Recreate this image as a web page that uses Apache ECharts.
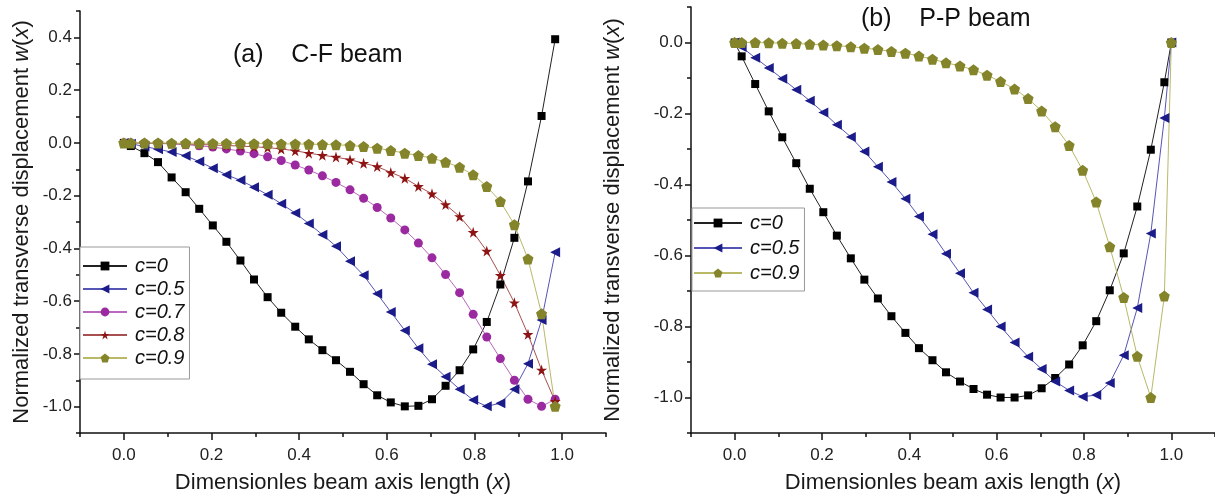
<!DOCTYPE html>
<html>
<head>
<meta charset="utf-8">
<title>Beam mode shapes</title>
<script src="https://cdn.jsdelivr.net/npm/echarts@6/dist/echarts.min.js"></script>
<style>
  html, body { margin: 0; padding: 0; background: #fff; }
  #chart { width: 1215px; height: 501px; }
</style>
</head>
<body>
<div id="chart"></div>
<script>
// x positions of the points (C-F panel has no point at x=1)
const xA = [0, 0.016, 0.047, 0.078, 0.109, 0.141, 0.172, 0.203, 0.234, 0.266, 0.297,
  0.328, 0.359, 0.391, 0.422, 0.453, 0.484, 0.516, 0.547, 0.578, 0.609,
  0.641, 0.672, 0.703, 0.734, 0.766, 0.797, 0.828, 0.859, 0.891, 0.922, 0.953, 0.984];
const xB = [0, 0.016, 0.047, 0.078, 0.109, 0.141, 0.172, 0.203, 0.234, 0.266, 0.297,
  0.328, 0.359, 0.391, 0.422, 0.453, 0.484, 0.516, 0.547, 0.578, 0.609,
  0.641, 0.672, 0.703, 0.734, 0.766, 0.797, 0.828, 0.859, 0.891, 0.922, 0.953, 0.984, 1.0];

// (a) C-F beam
const cfC0 = [0, -0.012, -0.039, -0.073, -0.131, -0.187, -0.250, -0.313, -0.375, -0.446, -0.518,
  -0.585, -0.644, -0.697, -0.745, -0.786, -0.824, -0.868, -0.915, -0.957, -0.984,
  -0.999, -0.997, -0.972, -0.921, -0.862, -0.783, -0.679, -0.537, -0.360, -0.146, 0.102, 0.393];
const cfC05 = [0, -0.003, -0.014, -0.024, -0.035, -0.049, -0.071, -0.096, -0.121, -0.142, -0.168,
  -0.197, -0.231, -0.266, -0.306, -0.348, -0.392, -0.449, -0.502, -0.572, -0.641,
  -0.711, -0.779, -0.839, -0.887, -0.934, -0.975, -0.999, -0.987, -0.934, -0.837, -0.672, -0.415];
const cfC07 = [0, 0, -0.001, -0.002, -0.004, -0.007, -0.011, -0.016, -0.023, -0.031, -0.041,
  -0.053, -0.067, -0.084, -0.103, -0.125, -0.150, -0.178, -0.210, -0.245, -0.285,
  -0.330, -0.380, -0.436, -0.499, -0.568, -0.650, -0.736, -0.818, -0.900, -0.972, -0.999, -0.972];
const cfC08 = [0, 0, -0.001, -0.002, -0.003, -0.004, -0.006, -0.008, -0.010, -0.012, -0.015,
  -0.018, -0.023, -0.030, -0.039, -0.047, -0.054, -0.064, -0.077, -0.090, -0.112,
  -0.134, -0.165, -0.193, -0.234, -0.279, -0.339, -0.410, -0.502, -0.606, -0.726, -0.861, -0.980];
const cfC09 = [0, 0, 0, 0, -0.001, -0.001, -0.001, -0.002, -0.002, -0.002, -0.003,
  -0.003, -0.004, -0.004, -0.005, -0.006, -0.007, -0.010, -0.014, -0.020, -0.029,
  -0.039, -0.048, -0.058, -0.073, -0.092, -0.121, -0.165, -0.222, -0.310, -0.440, -0.648, -0.999];

// (b) P-P beam
const ppC0 = [0, -0.039, -0.117, -0.194, -0.267, -0.340, -0.412, -0.478, -0.544, -0.608, -0.668,
  -0.721, -0.771, -0.818, -0.861, -0.895, -0.929, -0.955, -0.976, -0.992, -1.000,
  -1.000, -0.994, -0.974, -0.945, -0.907, -0.853, -0.785, -0.698, -0.594, -0.462, -0.302, -0.112, 0];
const ppC05 = [0, -0.013, -0.043, -0.072, -0.102, -0.133, -0.164, -0.197, -0.232, -0.266, -0.307,
  -0.350, -0.393, -0.440, -0.490, -0.540, -0.595, -0.650, -0.705, -0.752, -0.800,
  -0.845, -0.885, -0.920, -0.955, -0.980, -0.998, -0.993, -0.959, -0.881, -0.748, -0.538, -0.213, 0];
const ppC09 = [0, 0, 0, -0.001, -0.002, -0.003, -0.005, -0.007, -0.009, -0.012, -0.016,
  -0.020, -0.025, -0.030, -0.038, -0.047, -0.057, -0.066, -0.077, -0.092, -0.110,
  -0.131, -0.158, -0.193, -0.237, -0.290, -0.360, -0.449, -0.575, -0.718, -0.884, -1.000, -0.714, 0];

// tick values
const xMajor = [0, 0.2, 0.4, 0.6, 0.8, 1.0];
const xMinor = [-0.1, 0.1, 0.3, 0.5, 0.7, 0.9, 1.1];
const yMajorA = [-1.0, -0.8, -0.6, -0.4, -0.2, 0, 0.2, 0.4];
const yMinorA = [-1.1, -0.9, -0.7, -0.5, -0.3, -0.1, 0.1, 0.3, 0.5];
const yMajorB = [-1.0, -0.8, -0.6, -0.4, -0.2, 0];
const yMinorB = [-1.1, -0.9, -0.7, -0.5, -0.3, -0.1, 0.1];

const FONT = 'Liberation Sans, Arial, sans-serif';
const STAR = 'path://M50,0 L61,35 L98,35 L68,57 L79,91 L50,70 L21,91 L32,57 L2,35 L39,35 Z';
const PENTA = 'path://M50,0 L98,36 L80,95 L20,95 L2,36 Z';

// looks of each curve
const styles = {
  'c=0':   { symbol: 'rect', size: 8, rotate: 0, mark: '#000000', line: '#222222' },
  'c=0.5': { symbol: 'triangle', size: 10, rotate: 90, mark: '#1b1b8a', line: '#5555b5' },
  'c=0.7': { symbol: 'circle', size: 9, rotate: 0, mark: '#9b2aa0', line: '#b868bd' },
  'c=0.8': { symbol: STAR, size: 11, rotate: 0, mark: '#8e1414', line: '#a85050' },
  'c=0.9': { symbol: PENTA, size: 11, rotate: 0, mark: '#84842a', line: '#b9b968' },
};

const makeSeries = (name, xs, ys, axisIdx) => {
  const st = styles[name];
  return {
    name: name,
    type: 'line',
    xAxisIndex: axisIdx,
    yAxisIndex: axisIdx,
    data: xs.map((x, i) => [x, ys[i]]),
    symbol: st.symbol,
    symbolSize: st.size,
    symbolRotate: st.rotate,
    showAllSymbol: true,
    itemStyle: { color: st.mark },
    lineStyle: { color: st.line, width: 1 },
    emphasis: { disabled: true },
  };
};

const fmt = (v) => Number(v).toFixed(1);

const nameStyle = {
  fontFamily: FONT, fontSize: 22, color: '#1a1a1a',
  rich: { i: { fontStyle: 'italic', fontFamily: FONT, fontSize: 22, color: '#1a1a1a' } },
};

const majorX = (grid, nm) => ({
  type: 'value', gridIndex: grid, min: -0.1, max: 1.1, position: 'bottom',
  name: nm, nameLocation: 'middle', nameGap: 39, nameTextStyle: nameStyle,
  axisLine: { show: true, onZero: false, lineStyle: { color: '#111', width: 1.5 } },
  axisTick: { show: true, customValues: xMajor, length: 7, lineStyle: { color: '#111', width: 1.5 } },
  axisLabel: { customValues: xMajor, formatter: fmt, margin: 14, fontFamily: FONT, fontSize: 17, color: '#222' },
  splitLine: { show: false },
});
const minorX = (grid) => ({
  type: 'value', gridIndex: grid, min: -0.1, max: 1.1, position: 'bottom', offset: 0,
  axisLine: { show: false, onZero: false },
  axisTick: { show: true, customValues: xMinor, length: 4, lineStyle: { color: '#111', width: 1.5 } },
  axisLabel: { show: false },
  splitLine: { show: false },
});
const majorY = (grid, lo, hi, ticks, gap) => ({
  type: 'value', gridIndex: grid, min: lo, max: hi, position: 'left',
  name: 'Normalized transverse displacement {i|w}({i|x})', nameLocation: 'middle', nameGap: gap,
  nameTextStyle: nameStyle,
  axisLine: { show: true, onZero: false, lineStyle: { color: '#111', width: 1.5 } },
  axisTick: { show: true, customValues: ticks, length: 6, lineStyle: { color: '#111', width: 1.5 } },
  axisLabel: { customValues: ticks, formatter: fmt, margin: 8, fontFamily: FONT, fontSize: 17, color: '#222' },
  splitLine: { show: false },
});
const minorY = (grid, lo, hi, ticks) => ({
  type: 'value', gridIndex: grid, min: lo, max: hi, position: 'left', offset: 0,
  axisLine: { show: false, onZero: false },
  axisTick: { show: true, customValues: ticks, length: 4, lineStyle: { color: '#111', width: 1.5 } },
  axisLabel: { show: false },
  splitLine: { show: false },
});

const legendBase = {
  orient: 'vertical',
  itemHeight: 11,
  borderColor: '#999',
  borderWidth: 1,
  borderRadius: 0,
  backgroundColor: '#fff',
  selectedMode: false,
  textStyle: { fontFamily: FONT, fontStyle: 'italic', fontSize: 20, lineHeight: 18, color: '#111', padding: [0, 0, 0, 3] },
};

const option = {
  animation: false,
  backgroundColor: '#fff',
  title: [
    { text: '(a)    C-F beam', left: 233, top: 43, padding: 0,
      textStyle: { fontFamily: FONT, fontSize: 25, fontWeight: 'normal', color: '#111' } },
    { text: '(b)    P-P beam', left: 861, top: 7, padding: 0,
      textStyle: { fontFamily: FONT, fontSize: 25, fontWeight: 'normal', color: '#111' } },
  ],
  legend: [
    Object.assign({}, legendBase, {
      left: 80, top: 247, itemWidth: 44, itemGap: 3, padding: [9, 5, 11, 2],
      data: ['c=0', 'c=0.5', 'c=0.7', 'c=0.8', 'c=0.9'],
    }),
    Object.assign({}, legendBase, {
      left: 692, top: 208, itemWidth: 48, itemGap: 5, padding: [5, 5, 8, 1],
      data: ['c=0', 'c=0.5', 'c=0.9'],
    }),
  ],
  grid: [
    { left: 80, top: 11, width: 526, height: 422 },
    { left: 691, top: 7, width: 525, height: 426 },
  ],
  xAxis: [
    majorX(0, 'Dimensionles beam axis length ({i|x})'),
    minorX(0),
    majorX(1, 'Dimensionles beam axis length ({i|x})'),
    minorX(1),
  ],
  yAxis: [
    majorY(0, -1.1, 0.5, yMajorA, 47),
    minorY(0, -1.1, 0.5, yMinorA),
    majorY(1, -1.1, 0.1, yMajorB, 67),
    minorY(1, -1.1, 0.1, yMinorB),
  ],
  series: [
    makeSeries('c=0', xA, cfC0, 0),
    makeSeries('c=0.5', xA, cfC05, 0),
    makeSeries('c=0.7', xA, cfC07, 0),
    makeSeries('c=0.8', xA, cfC08, 0),
    makeSeries('c=0.9', xA, cfC09, 0),
    makeSeries('c=0', xB, ppC0, 2),
    makeSeries('c=0.5', xB, ppC05, 2),
    makeSeries('c=0.9', xB, ppC09, 2),
  ],
};

const chart = echarts.init(document.getElementById('chart'));
chart.setOption(option);
window.addEventListener('resize', function () {
  chart.resize();
});
</script>
</body>
</html>
